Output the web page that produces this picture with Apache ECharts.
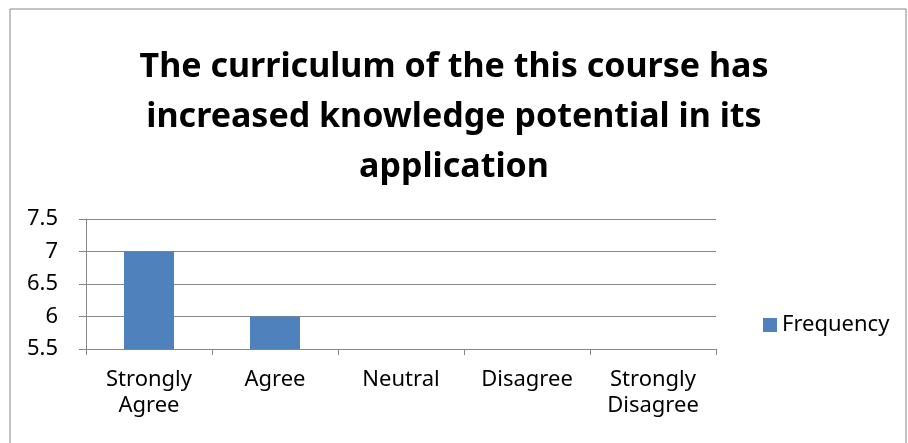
<!DOCTYPE html>
<html>
<head>
<meta charset="utf-8">
<script src="https://cdn.jsdelivr.net/npm/echarts@6/dist/echarts.min.js"></script>
<style>
  html, body { margin: 0; padding: 0; background: #fff; }
  #chart { width: 908px; height: 443px; }
</style>
</head>
<body>
<div id="chart"></div>
<script>
const titleText = 'The curriculum of the this course has\nincreased knowledge potential in its\napplication'
const categories = ['Strongly\nAgree', 'Agree', 'Neutral', 'Disagree', 'Strongly\nDisagree']
const frequency = [7, 6, 0, 0, 0]
const seriesName = 'Frequency'

const chart = echarts.init(document.getElementById('chart'))
const font = '"Noto Sans", sans-serif'

const option = {
  animation: false,
  graphic: [{
    type: 'rect',
    shape: { x: 10, y: 9, width: 896, height: 450 },
    style: { fill: 'none', stroke: '#868686', lineWidth: 1 }
  }],
  title: {
    text: titleText,
    left: 'center',
    top: 37,
    textStyle: {
      fontFamily: font,
      fontWeight: 'bold',
      fontSize: 34,
      lineHeight: 50,
      color: '#000'
    }
  },
  legend: {
    data: [seriesName],
    left: 758,
    top: 309,
    itemWidth: 14,
    itemHeight: 14,
    itemGap: 8,
    icon: 'rect',
    textStyle: { fontFamily: font, fontSize: 22, color: '#000' }
  },
  grid: { left: 86, right: 192, top: 219, bottom: 94, containLabel: false },
  xAxis: {
    type: 'category',
    data: categories,
    axisLine: { lineStyle: { color: '#868686', width: 1 } },
    axisTick: { show: true, alignWithLabel: false, length: 6, lineStyle: { color: '#868686' } },
    axisLabel: {
      fontFamily: font,
      fontSize: 22,
      color: '#000',
      lineHeight: 26,
      margin: 18,
      interval: 0
    }
  },
  yAxis: {
    type: 'value',
    min: 5.5,
    max: 7.5,
    interval: 0.5,
    axisLine: { show: true, lineStyle: { color: '#868686', width: 1 } },
    axisTick: { show: true, length: 7, lineStyle: { color: '#868686' } },
    splitLine: { show: true, lineStyle: { color: '#868686', width: 1 } },
    axisLabel: {
      fontFamily: font,
      fontSize: 22,
      color: '#000',
      margin: 28
    }
  },
  series: [{
    name: seriesName,
    type: 'bar',
    data: frequency,
    barWidth: 50,
    clip: true,
    itemStyle: { color: '#4f81bd' }
  }]
}
chart.setOption(option)
</script>
</body>
</html>
